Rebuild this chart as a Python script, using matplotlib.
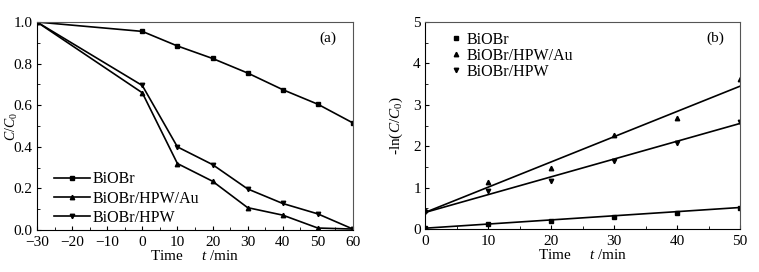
import numpy as np
import matplotlib
matplotlib.use("Agg")
import matplotlib.pyplot as plt
from matplotlib.ticker import MultipleLocator

plt.rcParams['font.family'] = ['Liberation Serif', 'DejaVu Serif']
plt.rcParams['mathtext.fontset'] = 'custom'
plt.rcParams['mathtext.rm'] = 'Liberation Serif'
plt.rcParams['mathtext.it'] = 'Liberation Serif:italic'

# ---- data (a) ----
time_a = [-30, 0, 10, 20, 30, 40, 50, 60]
a_biobr = [1.0, 0.955, 0.885, 0.825, 0.755, 0.675, 0.605, 0.515]
a_au = [1.0, 0.66, 0.32, 0.235, 0.108, 0.072, 0.01, 0.005]
a_hpw = [1.0, 0.695, 0.40, 0.315, 0.198, 0.128, 0.078, 0.005]

# ---- data (b) ----
time_b = [0, 10, 20, 30, 40, 50]
b_biobr = [0.03, 0.12, 0.20, 0.29, 0.39, 0.51]
b_au = [0.45, 1.14, 1.47, 2.28, 2.69, 3.62]
b_hpw = [0.41, 0.93, 1.17, 1.64, 2.09, 2.58]
fit_intercept = [0.02, 0.40, 0.40]
fit_slope = [0.010, 0.061, 0.043]
labels = ['BiOBr', 'BiOBr/HPW/Au', 'BiOBr/HPW']
markers = ['s', '^', 'v']

fig = plt.figure(figsize=(7.59, 2.72), dpi=100)
ax1 = fig.add_axes([0.0487, 0.154, 0.4163, 0.765])
ax2 = fig.add_axes([0.560, 0.158, 0.415, 0.761])

fs = 11
lfs = 11.5
spine_col = '#555555'

for ys, m, lab in zip([a_biobr, a_au, a_hpw], markers, labels):
    ax1.plot(time_a, ys, color='black', lw=1.2, marker=m, ms=3.2, label=lab)
ax1.set_xlim(-30, 60)
ax1.set_ylim(0, 1.0)
ax1.xaxis.set_major_locator(MultipleLocator(10))
ax1.xaxis.set_minor_locator(MultipleLocator(5))
ax1.yaxis.set_major_locator(MultipleLocator(0.2))
ax1.yaxis.set_minor_locator(MultipleLocator(0.1))
ax1.set_yticks(ax1.get_yticks())
ax1.set_yticklabels([f'{v:.1f}' for v in ax1.get_yticks()])
ax1.set_ylim(0, 1.0)
ax1.set_xlabel('Time     $t$ /min', fontsize=fs, labelpad=0)
ax1.set_ylabel('$C/C_0$', fontsize=10)
ax1.yaxis.set_label_coords(-0.055, 0.5)
ax1.text(0.92, 0.92, '(a)', transform=ax1.transAxes, fontsize=fs, ha='center', va='center')
ax1.legend(loc='lower left', bbox_to_anchor=(0.035, -0.01), frameon=False, fontsize=lfs,
           handlelength=2.2, handletextpad=0.2, labelspacing=0.2, borderaxespad=0.0)

xfit = np.array([0, 50])
for ys, m, lab, b0, k in zip([b_biobr, b_au, b_hpw], markers, labels, fit_intercept, fit_slope):
    ax2.plot(time_b, ys, linestyle='none', color='black', marker=m, ms=3.2, label=lab)
    ax2.plot(xfit, b0 + k * xfit, color='black', lw=1.2)
ax2.set_xlim(0, 50)
ax2.set_ylim(0, 5)
ax2.xaxis.set_major_locator(MultipleLocator(10))
ax2.xaxis.set_minor_locator(MultipleLocator(5))
ax2.yaxis.set_major_locator(MultipleLocator(1))
ax2.yaxis.set_minor_locator(MultipleLocator(0.5))
ax2.set_xlabel('Time     $t$ /min', fontsize=fs, labelpad=0)
ax2.set_ylabel('-ln($C$/$C_0$)', fontsize=fs, labelpad=6)
ax2.text(0.92, 0.92, '(b)', transform=ax2.transAxes, fontsize=fs, ha='center', va='center')
ax2.legend(loc='upper left', bbox_to_anchor=(0.06, 0.985), frameon=False, fontsize=lfs,
           handlelength=0.7, handletextpad=0.3, labelspacing=0.0, borderaxespad=0.0)

for ax in (ax1, ax2):
    ax.tick_params(which='both', direction='in', labelsize=fs, colors='black')
    ax.tick_params(axis='x', pad=4)
    ax.tick_params(axis='y', pad=3)
    ax.tick_params(which='major', length=3)
    ax.tick_params(which='minor', length=2)
    for s in ax.spines.values():
        s.set_color(spine_col)
        s.set_linewidth(0.8)
    ax.spines['left'].set_color('black')
    ax.spines['bottom'].set_color('black')

fig.savefig('out.png', dpi=100)
